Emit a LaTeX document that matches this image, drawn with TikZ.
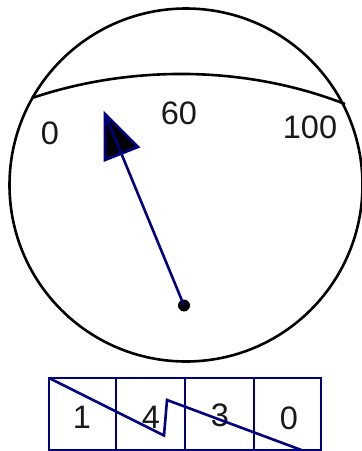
\documentclass[tikz,border=0pt]{standalone}
\usepackage{fontspec}
\setmainfont{Liberation Sans}
\definecolor{needleblue}{RGB}{0,0,128}
\tikzset{
  dial/.style={draw=black,line width=2.6pt},
  blue line/.style={draw=needleblue,line width=2.6pt,line join=miter},
  digit/.style={inner sep=0pt,font=\fontsize{32.5}{33}\selectfont,text=black!90}
}
\begin{document}
\begin{tikzpicture}[x=1pt,y=-1pt]
\useasboundingbox (0,0) rectangle (362,451);
\clip (0,0) rectangle (362,451);
\fill[white] (0,0) rectangle (362,451);
\node[dial,circle,minimum size=353pt,inner sep=0pt,outer sep=0pt] (face) at (186,185) {};
\coordinate (arcL) at (32,98);
\coordinate (arcR) at (345,104);
\draw[dial] (arcL) .. controls (130,65) and (245,65) .. (arcR);
\node[digit] (t0) at (50,133.5) {0};
\node[digit] (t60) at (179,113.5) {60};
\node[digit] (t100) at (310,127) {100};
% table
\draw[blue line] (49,378) rectangle (321,450);
\coordinate (c1t) at (116,378); \coordinate (c1b) at (116,450);
\coordinate (c2t) at (185,378); \coordinate (c2b) at (185,450);
\coordinate (c3t) at (254,378); \coordinate (c3b) at (254,450);
\draw[blue line] (c1t) -- (c1b) (c2t) -- (c2b) (c3t) -- (c3b);
\node[digit] (d1) at (82,417) {1};
\node[digit] (d4) at (151,417) {4};
\node[digit] (d3) at (220,415) {3};
\node[digit] (d0) at (289,418) {0};
\coordinate (z0) at (49,378);
\coordinate (z1) at (164,435.5);
\coordinate (z2) at (167,400);
\coordinate (z3) at (304,451);
\draw[blue line] (z0) -- (z1) -- (z2) -- (z3);
% needle
\coordinate (tipA) at (105,114);
\coordinate (tipB) at (105,160);
\coordinate (tipC) at (138,147);
\fill[black] (tipA) -- (tipB) -- (tipC) -- cycle;
\draw[blue line] (tipA) -- (tipB) -- (tipC) -- cycle;
\node[circle,fill=black,minimum size=12pt,inner sep=0pt] (hub) at (184,305.5) {};
\draw[blue line] (hub.center) -- (tipA);
\end{tikzpicture}
\end{document}
